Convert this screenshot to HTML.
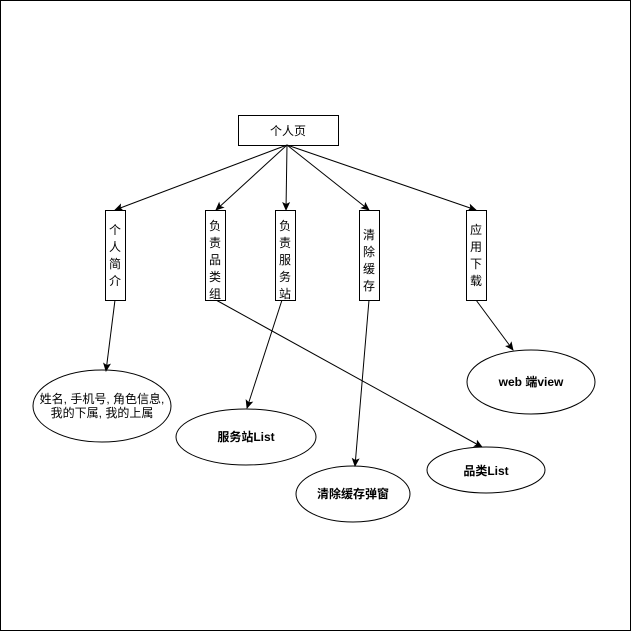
<!DOCTYPE html>
<html><head><meta charset="utf-8"><style>
body{margin:0;background:#fff}
svg text{font-family:"Liberation Sans","Noto Sans CJK SC",sans-serif;font-size:12px;fill:#000}
</style></head><body>
<svg width="631" height="631" viewBox="0 0 631 631" xmlns="http://www.w3.org/2000/svg">
<defs><marker id="a" markerWidth="10" markerHeight="10" refX="8" refY="5" orient="auto" markerUnits="userSpaceOnUse"><path d="M0,1 L9,5 L0,9 L2,5 Z" fill="#000"/></marker></defs>
<rect x="0.5" y="0.5" width="630" height="630" fill="#fff" stroke="#000"/>
<g fill="#fff" stroke="#000">
<ellipse cx="102" cy="406" rx="69" ry="36"/>
<ellipse cx="246" cy="437" rx="70" ry="28"/>
<ellipse cx="353" cy="494" rx="57" ry="28"/>
<ellipse cx="486" cy="470" rx="59" ry="23"/>
<ellipse cx="531" cy="382" rx="64" ry="32"/>
</g>
<rect x="238.5" y="115.5" width="100" height="30" fill="#fff" stroke="#000"/>
<text x="288" y="135" text-anchor="middle">个人页</text>
<g stroke="#000" fill="none" marker-end="url(#a)">
<line x1="287" y1="145" x2="115" y2="210"/>
<line x1="287" y1="145" x2="216" y2="210"/>
<line x1="287" y1="145" x2="286" y2="210"/>
<line x1="287" y1="145" x2="369" y2="210"/>
<line x1="287" y1="145" x2="476" y2="210"/>
<line x1="115" y1="300" x2="106" y2="371"/>
<line x1="216" y1="300" x2="482" y2="447"/>
<line x1="282" y1="300" x2="247" y2="408"/>
<line x1="369" y1="300" x2="355" y2="466"/>
<line x1="476" y1="300" x2="513" y2="350"/>
</g>
<g fill="#fff" stroke="#000">
<rect x="105.5" y="210.5" width="20" height="90"/>
<rect x="205.5" y="210.5" width="20" height="90"/>
<rect x="275.5" y="210.5" width="20" height="90"/>
<rect x="359.5" y="210.5" width="20" height="90"/>
<rect x="466.5" y="210.5" width="20" height="90"/>
</g>
<g text-anchor="middle">
<text x="115" y="234">个</text><text x="115" y="251">人</text><text x="115" y="268">简</text><text x="115" y="285">介</text>
<text x="215" y="230">负</text><text x="215" y="247">责</text><text x="215" y="264">品</text><text x="215" y="281">类</text><text x="215" y="298">组</text>
<text x="285" y="230">负</text><text x="285" y="247">责</text><text x="285" y="264">服</text><text x="285" y="281">务</text><text x="285" y="298">站</text>
<text x="369" y="239">清</text><text x="369" y="256">除</text><text x="369" y="273">缓</text><text x="369" y="290">存</text>
<text x="476" y="234">应</text><text x="476" y="251">用</text><text x="476" y="268">下</text><text x="476" y="285">载</text>
<text x="102" y="403">姓名, 手机号, 角色信息,</text>
<text x="102" y="417">我的下属, 我的上属</text>
<text x="246" y="441" font-weight="bold">服务站List</text>
<text x="353" y="498" font-weight="bold">清除缓存弹窗</text>
<text x="486" y="475" font-weight="bold">品类List</text>
<text x="531" y="386" font-weight="bold">web 端view</text>
</g>
</svg>
</body></html>
